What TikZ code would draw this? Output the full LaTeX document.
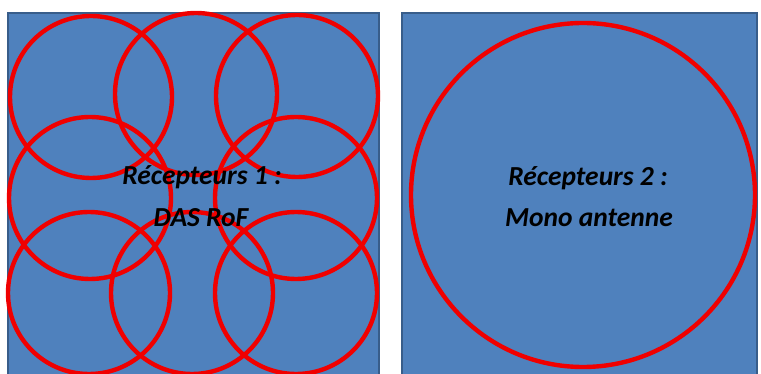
\documentclass[tikz,border=0pt]{standalone}
\usepackage{fontspec}
\setmainfont{Carlito}
\definecolor{boxfill}{HTML}{4F81BD}
\definecolor{boxline}{HTML}{385D8A}
\definecolor{ringred}{HTML}{F00000}
\begin{document}
\begin{tikzpicture}[x=1pt,y=-1pt,
  panel/.style={fill=boxfill,draw=boxline,line width=2pt},
  ring/.style={draw=ringred,line width=4.4pt},
  lbl/.style={font=\fontsize{27.5}{32}\selectfont\bfseries\itshape,text=black,anchor=base,inner sep=0pt}]
\useasboundingbox (0,0) rectangle (761,374);
\clip (0,0) rectangle (761,374);
\fill[white] (0,0) rectangle (761,374);
\draw[panel] (8,13) rectangle (379,385);
\draw[panel] (402,13) rectangle (757,385);
% left panel rings
\draw[ring] (91,97) circle (81);
\draw[ring] (196,94) circle (81);
\draw[ring] (297,96) circle (81);
\draw[ring] (90,198) circle (81);
\draw[ring] (296,198) circle (81);
\draw[ring] (89,293) circle (81);
\draw[ring] (192,293) circle (81);
\draw[ring] (296,293) circle (81);
% right panel ring
\draw[ring] (583,195) circle (172);
% labels
\node[lbl] (l1a) at (202,185) {Récepteurs 1 :};
\node[lbl] (l1b) at (201,227) {DAS RoF};
\node[lbl] (l2a) at (588,186) {Récepteurs 2 :};
\node[lbl] (l2b) at (589,227) {Mono antenne};
\end{tikzpicture}
\end{document}
